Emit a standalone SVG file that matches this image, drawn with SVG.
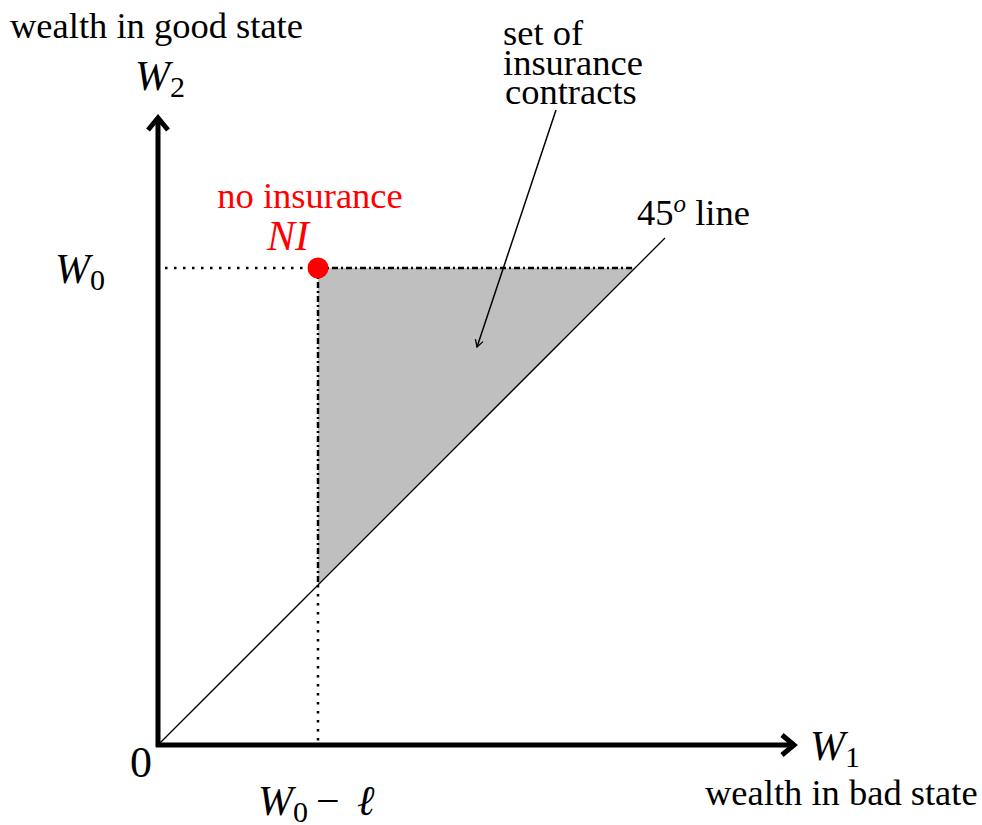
<svg xmlns="http://www.w3.org/2000/svg" width="982" height="825" viewBox="0 0 982 825">
<style>
.lbl{font-size:36.5px}
.math{font-size:42px;font-style:italic}
.sub{font-size:30px;font-style:normal}
.red{fill:#ff0000}
.axis{stroke:#000;stroke-width:5;fill:none}
.dot{stroke:#000;stroke-width:2.5;stroke-dasharray:2.5 6.5;fill:none}
</style>
<defs>
<marker id="ah" markerWidth="10" markerHeight="10" refX="8" refY="5" orient="auto" markerUnits="userSpaceOnUse">
<path d="M1,1 L8,5 L1,9" fill="none" stroke="#000" stroke-width="1.3"/>
</marker>
</defs>
<g id="region">
<polygon points="318,268 635,268 318,585" fill="#bfbfbf"/>
<path d="M318,268 H635 M318,268 V585" stroke="#000" stroke-width="2.5" stroke-dasharray="6 3 2 3" fill="none"/>
</g>
<g id="connectors">
<line x1="165" y1="268" x2="310" y2="268" class="dot"/>
<line x1="318" y1="585" x2="318" y2="742" class="dot"/>
<line x1="158" y1="745" x2="665" y2="238" stroke="#000" stroke-width="1.3"/>
<line x1="556" y1="110" x2="477" y2="347" stroke="#000" stroke-width="1.5" marker-end="url(#ah)"/>
</g>
<g id="axes">
<path class="axis" d="M158,747 V120"/>
<path class="axis" d="M148,130 L158,118 L168,130"/>
<path class="axis" d="M156,745 H792"/>
<path class="axis" d="M782,735 L794,745 L782,755"/>
</g>
<g id="NI">
<circle cx="318" cy="268" r="10.5" fill="#ff0000"/>
<text font-family="Times New Roman" class="lbl red" x="310" y="208" text-anchor="middle">no insurance</text>
<text font-family="Liberation Serif" class="math red" x="288" y="250" text-anchor="middle">NI</text>
</g>
<g id="labels">
<text font-family="Liberation Serif" class="lbl" x="10" y="38">wealth in good state</text>
<text font-family="Liberation Serif" class="math" x="135" y="90">W<tspan class="sub" dy="7">2</tspan></text>
<text font-family="Liberation Serif" class="math" x="55" y="283">W<tspan class="sub" dy="7">0</tspan></text>
<text font-family="Liberation Serif" class="lbl" x="503" y="45">set of</text>
<text font-family="Times New Roman" class="lbl" x="503" y="75">insurance</text>
<text font-family="serif" class="lbl" x="505" y="104">contracts</text>
<text font-family="Times New Roman" class="lbl" x="637" y="225">45<tspan font-style="italic" font-size="25" dy="-13">o</tspan><tspan dy="13"> line</tspan></text>
<text font-family="Liberation Serif" x="130" y="777" font-size="44">0</text>
<text font-family="Liberation Serif" class="math" x="258" y="815">W<tspan class="sub" dy="7">0</tspan><tspan style="font-style:normal" dy="-7" x="316">−</tspan><tspan x="357">ℓ</tspan></text>
<text font-family="Liberation Serif" class="math" x="810" y="760">W<tspan class="sub" dy="7">1</tspan></text>
<text font-family="Liberation Serif" class="lbl" x="705" y="805">wealth in bad state</text>
</g>
</svg>
